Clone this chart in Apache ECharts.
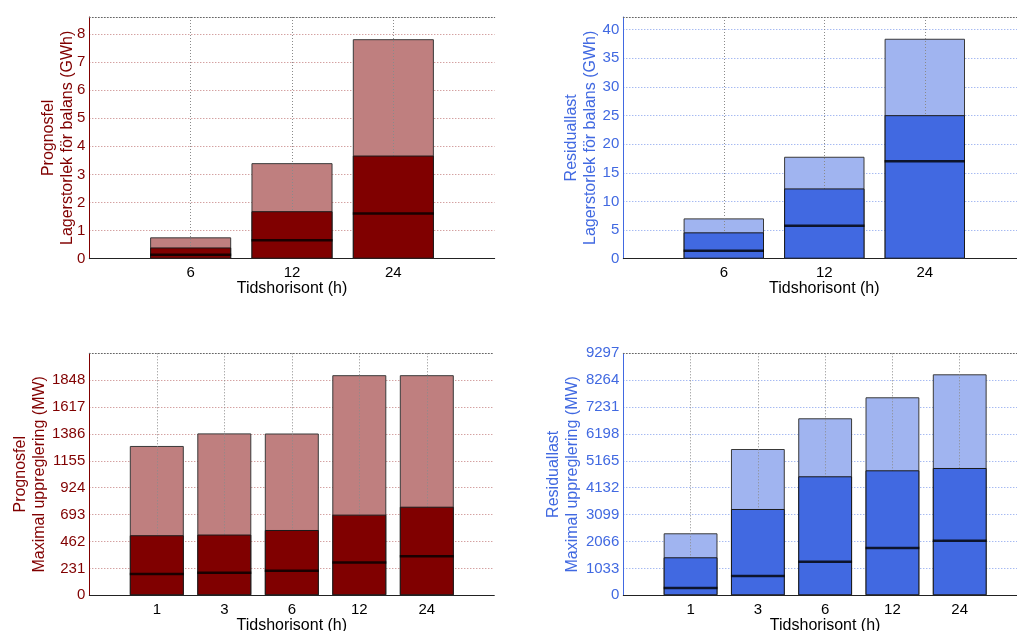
<!DOCTYPE html>
<html>
<head>
<meta charset="utf-8">
<script src="https://cdn.jsdelivr.net/npm/echarts@6/dist/echarts.min.js"></script>
<style>
  html, body { margin: 0; padding: 0; background: #fff; overflow: hidden; }
  /* the right-hand panels run slightly past the visible page edge */
  #chart { width: 1040px; height: 631px; }
</style>
</head>
<body>
<div id="chart"></div>
<script>
// Time horizons (h)
const horizonsStore = ['6', '12', '24'];
const horizonsUp = ['1', '3', '6', '12', '24'];

// Storage size for balancing (GWh): outer range, inner range, centre line
const progStoreHigh = [0.76, 3.40, 7.81];
const progStoreMid = [0.40, 1.69, 3.67];
const progStoreLine = [0.14, 0.66, 1.61];

const residStoreHigh = [7.04, 17.8, 38.4];
const residStoreMid = [4.6, 12.27, 25.06];
const residStoreLine = [1.4, 5.75, 17.0];

// Maximal up-regulation (MW)
const progUpHigh = [1283, 1391, 1390, 1891, 1891];
const progUpMid = [516, 522, 561, 693, 761];
const progUpLine = [182, 193, 210, 282, 336];

const residUpHigh = [2382, 5620, 6800, 7607, 8490];
const residUpMid = [1460, 3316, 4572, 4802, 4891];
const residUpLine = [282, 742, 1292, 1818, 2098];

// Y-axis scales: [max, tick step]
const progStoreScale = [8.6, 1];
const residStoreScale = [42.2, 5];
const progUpScale = [2079, 231];
const residUpScale = [9297, 1033];

const FONT = '"Liberation Sans", Arial, Helvetica, sans-serif';
const RED = '#800000', RED_LIGHT = '#bf7f7f', RED_GRID = '#c27a7a';
const BLUE = '#4169e1', BLUE_LIGHT = '#a0b4f0', BLUE_GRID = '#819ded';

// plot boxes anchored from the top-left corner
const panels = [
  { cats: horizonsStore, high: progStoreHigh, mid: progStoreMid, line: progStoreLine,
    scale: progStoreScale, hideMaxLabel: true,
    name: 'Prognosfel\nLagerstorlek för balans (GWh)', nameGap: 12,
    dark: RED, light: RED_LIGHT, grid: RED_GRID,
    box: { left: 89.3, top: 17, width: 405.4, height: 241.7 } },
  { cats: horizonsStore, high: residStoreHigh, mid: residStoreMid, line: residStoreLine,
    scale: residStoreScale, hideMaxLabel: true,
    name: 'Residuallast\nLagerstorlek för balans (GWh)', nameGap: 23,
    dark: BLUE, light: BLUE_LIGHT, grid: BLUE_GRID,
    box: { left: 623.3, top: 17, width: 402, height: 241.7 } },
  { cats: horizonsUp, high: progUpHigh, mid: progUpMid, line: progUpLine,
    scale: progUpScale, hideMaxLabel: true,
    name: 'Prognosfel\nMaximal uppreglering (MW)', nameGap: 40,
    dark: RED, light: RED_LIGHT, grid: RED_GRID,
    box: { left: 89.3, top: 353.3, width: 405, height: 242 } },
  { cats: horizonsUp, high: residUpHigh, mid: residUpMid, line: residUpLine,
    scale: residUpScale, hideMaxLabel: false,
    name: 'Residuallast\nMaximal uppreglering (MW)', nameGap: 41,
    dark: BLUE, light: BLUE_LIGHT, grid: BLUE_GRID,
    box: { left: 623.3, top: 353.3, width: 403.7, height: 242 } }
];

const grids = [], xAxes = [], yAxes = [], series = [];

panels.forEach((p, i) => {
  const n = p.cats.length;
  const xMax = n + 1;
  const barPx = 0.8 * p.box.width / xMax;

  // fixed plot boxes; the bottom axis titles may run past the page edge
  grids.push(Object.assign({ containLabel: false, outerBoundsMode: 'none' }, p.box));

  // bottom x axis with horizon labels
  xAxes.push({
    type: 'value', gridIndex: i, min: 0, max: xMax, interval: 1,
    position: 'bottom',
    axisLine: { show: true, onZero: false, lineStyle: { color: '#222', width: 1 } },
    axisTick: { show: false },
    axisLabel: {
      color: '#000', fontFamily: FONT, fontSize: 15, margin: 7,
      formatter: v => p.cats[Math.round(v) - 1] || ''
    },
    splitLine: { show: false },
    name: 'Tidshorisont (h)', nameLocation: 'middle', nameGap: 22, nameMoveOverlap: false,
    nameTextStyle: { color: '#000', fontFamily: FONT, fontSize: 16 }
  });
  // top x axis: dotted frame line and vertical grid drawn above the light bars
  xAxes.push({
    type: 'value', gridIndex: i, min: 0, max: xMax, interval: 1,
    position: 'top', z: 3,
    axisLine: { show: true, onZero: false, lineStyle: { color: '#666', type: [1, 2], width: 1 } },
    axisTick: { show: false },
    axisLabel: { show: false },
    splitLine: { show: true, showMinLine: false, showMaxLine: false,
      lineStyle: { color: '#8a8a8a', type: [1, 2], width: 1 } }
  });

  yAxes.push({
    type: 'value', gridIndex: i, min: 0, max: p.scale[0], interval: p.scale[1],
    axisLine: { show: true, lineStyle: { color: p.dark, width: 1 } },
    axisTick: { show: false },
    axisLabel: {
      color: p.dark, fontFamily: FONT, fontSize: 15, margin: 4,
      showMaxLabel: !p.hideMaxLabel,
      formatter: v => (Math.abs(v / p.scale[1] - Math.round(v / p.scale[1])) < 1e-6) ? String(v) : ''
    },
    splitLine: { show: true, showMinLine: false, showMaxLine: false,
      lineStyle: { color: p.grid, type: [1, 2], width: 1 } },
    name: p.name, nameLocation: 'middle', nameRotate: 90, nameGap: p.nameGap,
    nameMoveOverlap: false,
    nameTextStyle: { color: p.dark, fontFamily: FONT, fontSize: 16, lineHeight: 19 }
  });

  const xi = i * 2;
  series.push({
    type: 'bar', xAxisIndex: xi, yAxisIndex: i, barWidth: barPx, barGap: '-100%', z: 2,
    itemStyle: { color: p.light, borderColor: '#3a3a3a', borderWidth: 1 },
    data: p.high.map((v, k) => [k + 1, v]), silent: true
  });
  series.push({
    type: 'bar', xAxisIndex: xi, yAxisIndex: i, barWidth: barPx, barGap: '-100%', z: 4,
    itemStyle: { color: p.dark, borderColor: '#1a1a1a', borderWidth: 1 },
    data: p.mid.map((v, k) => [k + 1, v]), silent: true
  });
  series.push({
    type: 'scatter', xAxisIndex: xi, yAxisIndex: i, z: 5,
    symbol: 'rect', symbolSize: [barPx, 2.5],
    itemStyle: { color: '#000' },
    data: p.line.map((v, k) => [k + 1, v]), silent: true
  });
});

const chart = echarts.init(document.getElementById('chart'), null, { renderer: 'canvas' });
chart.setOption({
  animation: false,
  backgroundColor: '#fff',
  textStyle: { fontFamily: FONT },
  grid: grids,
  xAxis: xAxes,
  yAxis: yAxes,
  series: series
});
</script>
</body>
</html>
